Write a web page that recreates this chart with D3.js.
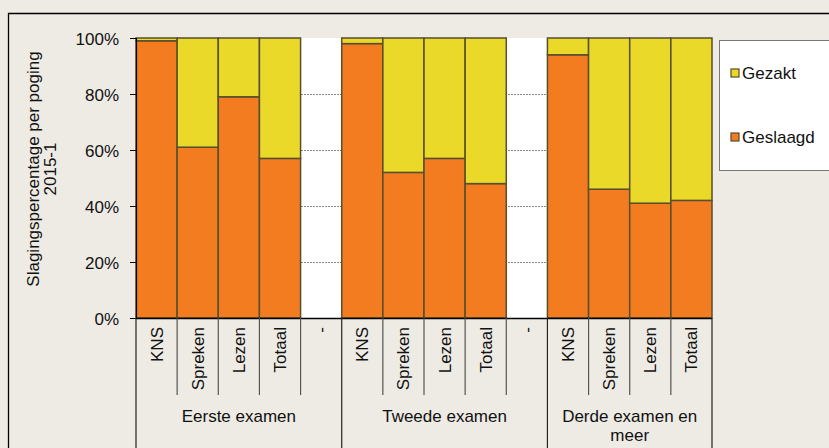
<!DOCTYPE html>
<html><head><meta charset="utf-8">
<script src="https://cdn.jsdelivr.net/npm/d3@7"></script>
<style>
html,body{margin:0;padding:0;background:#EEEBE5;}
svg{display:block;font-family:"Liberation Sans",Arial,sans-serif;}
</style></head>
<body>
<svg id="c" width="829" height="448"></svg>
<script>
const categories = ["KNS","Spreken","Lezen","Totaal","-","KNS","Spreken","Lezen","Totaal","-","KNS","Spreken","Lezen","Totaal"];
const groups = [["Eerste examen"],["Tweede examen"],["Derde examen en","meer"]];
const groupSizes = [5,5,4];
const geslaagd = [99,61,79,57,null,98,52,57,48,null,94,46,41,42];
const gezakt   = [1,39,21,43,null,2,48,43,52,null,6,54,59,58];
const yTicks = [0,20,40,60,80,100];
const seriesNames = ["Gezakt","Geslaagd"];
const colors = {Geslaagd:"#F47C20", Gezakt:"#EAD928"};

(function(){
const svg = d3.select("#c");
const W=829,H=448;
const pL=136,pR=712,pT=38,pB=318;
const strokeCol="#574F2E";

// outer border
svg.append("path").attr("d",`M8.5,${H} V13.5 H${W}`).attr("fill","none").attr("stroke","#000").attr("stroke-width",1.3);

// plot background
svg.append("rect").attr("x",pL).attr("y",pT).attr("width",pR-pL).attr("height",pB-pT).attr("fill","#fff");

const x = d3.scaleBand().domain(d3.range(categories.length)).range([pL,pR]).padding(0);
const y = d3.scaleLinear().domain([0,100]).range([pB,pT]);

// gridlines
svg.append("g").selectAll("line").data(yTicks.filter(t=>t>0&&t<100)).join("line")
  .attr("x1",pL).attr("x2",pR).attr("y1",d=>y(d)+0.5).attr("y2",d=>y(d)+0.5)
  .attr("stroke","#8a8a8a").attr("stroke-width",1).attr("stroke-dasharray","2,1");

// bars
const bars = svg.append("g");
categories.forEach((c,i)=>{
  if(geslaagd[i]==null) return;
  const x0=x(i), bw=x.bandwidth();
  bars.append("rect").attr("x",x0).attr("width",bw)
    .attr("y",y(geslaagd[i])).attr("height",y(0)-y(geslaagd[i]))
    .attr("fill",colors.Geslaagd).attr("stroke",strokeCol).attr("stroke-width",1.5);
  bars.append("rect").attr("x",x0).attr("width",bw)
    .attr("y",y(geslaagd[i]+gezakt[i])).attr("height",y(geslaagd[i])-y(geslaagd[i]+gezakt[i]))
    .attr("fill",colors.Gezakt).attr("stroke",strokeCol).attr("stroke-width",1.5);
});

// y axis
const yAxis = d3.axisLeft(y).tickValues(yTicks).tickSize(6).tickPadding(11).tickFormat(d=>d+"%");
const ya = svg.append("g").attr("transform",`translate(${pL},0)`).call(yAxis);
ya.select(".domain").attr("stroke","#000").attr("stroke-width",1.2);
ya.selectAll(".tick line").attr("stroke","#000");
ya.selectAll(".tick text").attr("font-size",17).attr("fill","#111").attr("font-family","Liberation Sans, Arial, sans-serif").attr("dy","0.36em");

// x axis line
svg.append("line").attr("x1",pL).attr("x2",pR).attr("y1",pB+0.5).attr("y2",pB+0.5).attr("stroke","#000").attr("stroke-width",1.5);

// separators
const groupBounds=[0]; groupSizes.reduce((a,s)=>{groupBounds.push(a+s);return a+s;},0);
for(let i=0;i<=categories.length;i++){
  const xx = i<categories.length ? x(i) : pR;
  const isGroup = groupBounds.includes(i);
  svg.append("line").attr("x1",xx).attr("x2",xx).attr("y1",pB).attr("y2",isGroup?H:395)
    .attr("stroke",isGroup?"#222":"#555").attr("stroke-width",1.2);
}

// category labels
svg.append("g").selectAll("text").data(categories).join("text")
  .attr("transform",(d,i)=>`translate(${x(i)+x.bandwidth()/2+6},327) rotate(-90)`)
  .attr("text-anchor","end").attr("font-size",17).attr("fill","#111").text(d=>d);

// group labels
groups.forEach((g,gi)=>{
  const a=groupBounds[gi], b=groupBounds[gi+1];
  const cx=(x(a)+(b<categories.length?x(b):pR))/2;
  const t=svg.append("text").attr("x",cx).attr("y",422).attr("text-anchor","middle").attr("font-size",17).attr("fill","#111");
  g.forEach((line,li)=>t.append("tspan").attr("x",cx).attr("dy",li?19:0).text(line));
});

// y title
const yt=svg.append("text").attr("transform","translate(39,169) rotate(-90)").attr("text-anchor","middle").attr("font-size",17).attr("fill","#111");
yt.append("tspan").attr("x",0).attr("dy",0).text("Slagingspercentage per poging");
yt.append("tspan").attr("x",0).attr("dy",17).text("2015-1");

// legend
svg.append("rect").attr("x",719.5).attr("y",40.5).attr("width",120).attr("height",130).attr("fill","#fff").attr("stroke","#777").attr("stroke-width",1);
const legY={Gezakt:73,Geslaagd:137};
seriesNames.forEach(n=>{
  svg.append("rect").attr("x",731).attr("y",legY[n]-4).attr("width",8).attr("height",8).attr("fill",colors[n]).attr("stroke",strokeCol).attr("stroke-width",1.2);
  svg.append("text").attr("x",742).attr("y",legY[n]+6).attr("font-size",17).attr("fill","#111").text(n);
});
})();
</script>
</body></html>
